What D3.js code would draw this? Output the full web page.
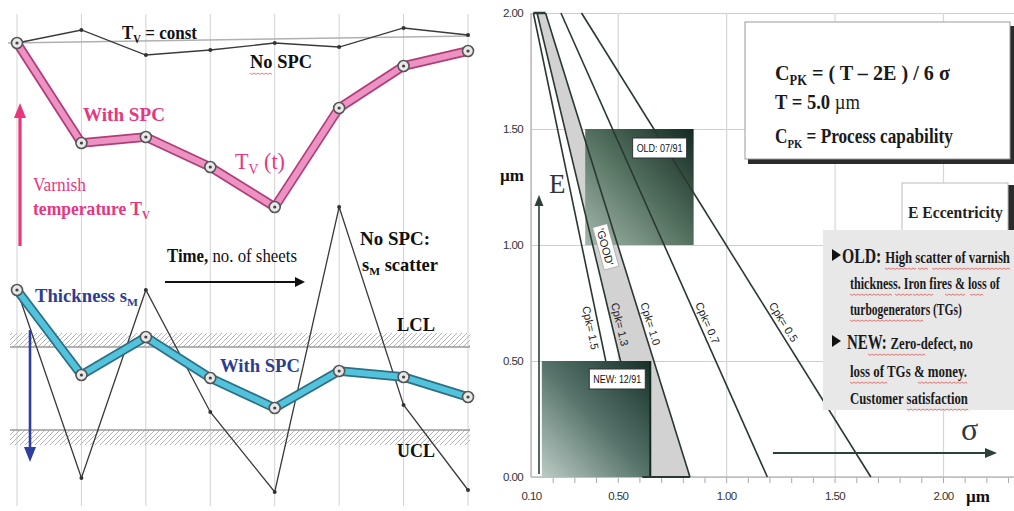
<!DOCTYPE html>
<html><head><meta charset="utf-8">
<script src="https://cdn.jsdelivr.net/npm/d3@7"></script>
<style>body{margin:0;background:#fff}svg{display:block}</style>
</head><body><svg id="c" width="1014" height="511"></svg>
<script>
// ---------- LEFT PANEL DATA (relative units, 0..100) ----------
const samples = [1, 2, 3, 4, 5, 6, 7, 8];
const tvNoSpc   = [91.4, 94.0, 89.0, 90.0, 91.4, 90.6, 94.4, 93.0];
const tvWithSpc = [91.4, 71.4, 72.6, 66.6, 58.6, 78.4, 86.8, 89.8];
const smWithSpc = [42.0, 25.0, 32.6, 24.4, 18.4, 25.8, 24.6, 20.6];
const smNoSpc   = [42.0, 4.4, 42.0, 17.6, 1.6, 58.6, 19.0, 2.0];
const tvConstRef = [91.4, 92.8];
const lclValue = 30.6;
const uclValue = 14.0;

// ---------- RIGHT PANEL DATA ----------
const sigmaTicks = [0.10, 0.50, 1.00, 1.50, 2.00];
const eTicks = [0.00, 0.50, 1.00, 1.50, 2.00];
const cpkValues    = [1.5, 1.3, 1.0, 0.7, 0.5];
const cpkSigmaAtE2 = [0.111, 0.128, 0.167, 0.238, 0.333];
const cpkSigmaAtE0 = [0.556, 0.641, 0.833, 1.190, 1.667];
const cpkLabelE = 0.65;
const oldSigma = [0.35, 0.85], oldE = [1.0, 1.5];
const newSigma = [0.15, 0.65], newE = [0.0, 0.5];

const svg = d3.select('#c');
svg.append('rect').attr('width', 1014).attr('height', 511).attr('fill', '#fff');
const defs = svg.append('defs');
const pat = defs.append('pattern').attr('id', 'hatch').attr('patternUnits', 'userSpaceOnUse')
  .attr('width', 5).attr('height', 5);
pat.append('path').attr('d', 'M-1,6 L6,-1 M4,6 L6,4 M-1,1 L1,-1').attr('stroke', '#b5b5b5').attr('stroke-width', 1);

function grad(id, light, mid, dark) {
  const g = defs.append('linearGradient').attr('id', id)
    .attr('x1', '0').attr('y1', '1').attr('x2', '1').attr('y2', '0');
  g.append('stop').attr('offset', '0').attr('stop-color', light);
  g.append('stop').attr('offset', '0.5').attr('stop-color', mid);
  g.append('stop').attr('offset', '1').attr('stop-color', dark);
}
grad('gOld', '#a3b7ad', '#54715f', '#132a23');
grad('gNew', '#bccbc4', '#55736a', '#17302a');

const SERIF = "'Liberation Serif','Times New Roman',serif";
const SANSN = "'Liberation Sans Narrow','Liberation Sans',Arial,sans-serif";

// text condensed horizontally to a target width (keeps sub/superscripts proportional)
function txt(x, y, parts, o) {
  const g = svg.append('g');
  const t = g.append('text').attr('x', 0).attr('y', 0)
    .attr('font-family', o.family || SERIF).attr('font-size', o.size)
    .attr('font-weight', o.weight || 'bold').attr('fill', o.fill || '#111');
  parts.forEach(p => {
    const s = t.append('tspan').text(p.t);
    if (p.sub) s.attr('font-size', o.size * 0.62).attr('dy', o.size * 0.22);
    if (p.up) s.attr('dy', -o.size * 0.22);
    if (p.w) s.attr('font-weight', p.w);
    if (p.size) s.attr('font-size', p.size);
  });
  let sx = 1;
  if (o.len) { const w = t.node().getComputedTextLength(); if (w > 0) sx = o.len / w; }
  g.attr('transform', `translate(${x},${y}) scale(${sx},1)`);
  return t;
}
function arrow(x1, y1, x2, y2, color, w, hl, hw) {
  const a = Math.atan2(y2 - y1, x2 - x1);
  const bx = x2 - hl * Math.cos(a), by = y2 - hl * Math.sin(a);
  svg.append('line').attr('x1', x1).attr('y1', y1).attr('x2', bx).attr('y2', by)
    .attr('stroke', color).attr('stroke-width', w);
  const px = -Math.sin(a) * hw, py = Math.cos(a) * hw;
  svg.append('path').attr('d', `M${x2},${y2}L${bx + px},${by + py}L${bx - px},${by - py}Z`).attr('fill', color);
}
function wavy(x1, x2, y) {
  let d = `M${x1},${y}`;
  for (let x = x1, k = 0; x < x2; x += 2, k++) d += `L${Math.min(x + 2, x2)},${y + (k % 2 ? 0 : 1.4)}`;
  svg.append('path').attr('d', d).attr('fill', 'none').attr('stroke', '#e0403a').attr('stroke-width', 0.8).attr('opacity', 0.85);
}

// ================= LEFT PANEL =================
const xL = d3.scalePoint().domain(samples).range([17, 468]);
const yL = d3.scaleLinear().domain([0, 100]).range([500, 0]);

svg.append('g').selectAll('line').data(samples).join('line')
  .attr('x1', d => xL(d)).attr('x2', d => xL(d)).attr('y1', 14).attr('y2', 506)
  .attr('stroke', '#d2d2d2').attr('stroke-width', 1);

svg.append('line').attr('x1', 8).attr('x2', 470)
  .attr('y1', yL(tvConstRef[0])).attr('y2', yL(tvConstRef[1]))
  .attr('stroke', '#b0b0b0').attr('stroke-width', 1.6);

svg.append('rect').attr('x', 10).attr('width', 460).attr('y', yL(lclValue) - 14).attr('height', 14).attr('fill', 'url(#hatch)');
svg.append('line').attr('x1', 10).attr('x2', 470).attr('y1', yL(lclValue)).attr('y2', yL(lclValue)).attr('stroke', '#9a9a9a').attr('stroke-width', 1.5);
svg.append('rect').attr('x', 10).attr('width', 460).attr('y', yL(uclValue)).attr('height', 15).attr('fill', 'url(#hatch)');
svg.append('line').attr('x1', 10).attr('x2', 470).attr('y1', yL(uclValue)).attr('y2', yL(uclValue)).attr('stroke', '#9a9a9a').attr('stroke-width', 1.5);

const lineL = d3.line().x((d, i) => xL(samples[i])).y(d => yL(d));

[tvNoSpc, smNoSpc].forEach(arr => {
  svg.append('path').attr('d', lineL(arr)).attr('fill', 'none').attr('stroke', '#3a3a3a').attr('stroke-width', 1.3);
  svg.append('g').selectAll('circle').data(arr).join('circle')
    .attr('cx', (d, i) => xL(samples[i])).attr('cy', d => yL(d)).attr('r', 2).attr('fill', '#333');
});

function band(arr, outer, inner) {
  svg.append('path').attr('d', lineL(arr)).attr('fill', 'none').attr('stroke', outer).attr('stroke-width', 9.5).attr('stroke-linejoin', 'round');
  svg.append('path').attr('d', lineL(arr)).attr('fill', 'none').attr('stroke', inner).attr('stroke-width', 6).attr('stroke-linejoin', 'round');
  const g = svg.append('g');
  g.selectAll('circle.o').data(arr).join('circle').attr('class', 'o')
    .attr('cx', (d, i) => xL(samples[i])).attr('cy', d => yL(d)).attr('r', 5.5)
    .attr('fill', '#e8e8e8').attr('stroke', '#555').attr('stroke-width', 1.6);
  g.selectAll('circle.i').data(arr).join('circle').attr('class', 'i')
    .attr('cx', (d, i) => xL(samples[i])).attr('cy', d => yL(d)).attr('r', 1.6).attr('fill', '#444');
}
band(tvWithSpc, '#b23c78', '#ec93c4');
band(smWithSpc, '#2c6f86', '#52c3da');

arrow(20, 246, 20, 103, '#e8357c', 3.2, 15, 6);
arrow(30, 330, 30, 462, '#2f3f9f', 2.6, 15, 6);
arrow(165, 282, 305, 282, '#111', 2.2, 10, 5);

const PINK = '#e5387f', BLUE = '#2f3d8f';
txt(122, 39, [{t: 'T'}, {t: 'V', sub: true}, {t: ' = const', up: true}], {size: 19, len: 75});
txt(250, 68, [{t: 'No  SPC'}], {size: 19, len: 62});
wavy(250, 272, 73);
txt(83, 121, [{t: 'With  SPC'}], {size: 19, fill: PINK, len: 82});
txt(235, 169, [{t: 'T'}, {t: 'V', sub: true}, {t: ' (t)', up: true}], {size: 24, fill: PINK, weight: 'normal', len: 50});
txt(33, 191, [{t: 'Varnish'}], {size: 19, fill: PINK, weight: 'normal', len: 53});
txt(33, 215, [{t: 'temperature T'}, {t: 'V', sub: true}], {size: 19, fill: PINK, len: 117});
txt(167, 262, [{t: 'Time,'}, {t: ' no. of sheets', w: 'normal'}], {size: 18, len: 130});
txt(360, 245, [{t: 'No  SPC:'}], {size: 18, len: 70});
txt(362, 271, [{t: 's'}, {t: 'M', sub: true}, {t: ' scatter', up: true}], {size: 18, len: 76});
txt(35, 302, [{t: 'Thickness s'}, {t: 'M', sub: true}], {size: 18, fill: BLUE, len: 103});
txt(220, 372, [{t: 'With  SPC'}], {size: 19, fill: BLUE, len: 80});
txt(397, 331, [{t: 'LCL'}], {size: 18, len: 38});
txt(397, 457, [{t: 'UCL'}], {size: 18, len: 38});

// ================= RIGHT PANEL =================
const xR = d3.scaleLinear().domain([0.1, 2.0]).range([531, 943]);
const yR = d3.scaleLinear().domain([0, 2]).range([477, 13]);

const gy = svg.append('g').attr('transform', 'translate(531,0)')
  .call(d3.axisLeft(yR).tickValues(eTicks).tickFormat(d3.format('.2f')).tickSize(-(1014 - 531)).tickPadding(8));
gy.select('.domain').remove();
gy.selectAll('line').attr('stroke', '#cfcfcf').attr('stroke-width', 1.2);
gy.selectAll('text').attr('font-family', SANSN).attr('font-size', 11.5).attr('fill', '#333').attr('letter-spacing', -0.6);

const gx = svg.append('g').attr('transform', 'translate(0,477)')
  .call(d3.axisBottom(xR).tickValues(sigmaTicks).tickFormat(d3.format('.2f')).tickSize(-(477 - 13)).tickPadding(15));
gx.select('.domain').remove();
gx.selectAll('line').attr('stroke', '#d6d6d6').attr('stroke-width', 1.2);
gx.selectAll('text').attr('font-family', SANSN).attr('font-size', 11.5).attr('fill', '#333').attr('letter-spacing', -0.6);

const minorTicks = d3.range(2, 24).map(d => d / 10);
const gm = svg.append('g').attr('transform', 'translate(0,477)')
  .call(d3.axisBottom(xR).tickValues(minorTicks).tickFormat('').tickSize(6));
gm.select('.domain').remove();
gm.selectAll('line').attr('stroke', '#aaa');
svg.append('line').attr('x1', 531).attr('x2', 1014).attr('y1', 477).attr('y2', 477).attr('stroke', '#bdbdbd').attr('stroke-width', 1.5);
svg.append('line').attr('x1', 531).attr('x2', 531).attr('y1', 13).attr('y2', 477).attr('stroke', '#bdbdbd').attr('stroke-width', 1.5);

const bandPts = [[cpkSigmaAtE2[1], 2], [cpkSigmaAtE2[2], 2], [cpkSigmaAtE0[2], 0], [cpkSigmaAtE0[1], 0]];
svg.append('path').attr('d', d3.line().x(d => xR(d[0])).y(d => yR(d[1]))(bandPts) + 'Z')
  .attr('fill', '#d2d2d2');
svg.append('line').attr('x1', xR(cpkSigmaAtE2[0])).attr('x2', xR(cpkSigmaAtE2[2])).attr('y1', yR(2)).attr('y2', yR(2))
  .attr('stroke', '#2c3f36').attr('stroke-width', 2.5);

svg.append('rect').attr('x', xR(oldSigma[0])).attr('y', yR(oldE[1]))
  .attr('width', xR(oldSigma[1]) - xR(oldSigma[0])).attr('height', yR(oldE[0]) - yR(oldE[1]))
  .attr('fill', 'url(#gOld)');

svg.append('g').selectAll('line').data(cpkValues).join('line')
  .attr('x1', (d, i) => xR(cpkSigmaAtE2[i])).attr('y1', yR(2))
  .attr('x2', (d, i) => xR(cpkSigmaAtE0[i])).attr('y2', yR(0))
  .attr('stroke', '#2a3832').attr('stroke-width', 1.6);

svg.append('rect').attr('x', xR(newSigma[0])).attr('y', yR(newE[1]))
  .attr('width', xR(newSigma[1]) - xR(newSigma[0])).attr('height', yR(newE[0]) - yR(newE[1]))
  .attr('fill', 'url(#gNew)');
svg.append('line').attr('x1', xR(newSigma[1])).attr('x2', xR(newSigma[1])).attr('y1', yR(newE[1])).attr('y2', yR(0))
  .attr('stroke', '#14281f').attr('stroke-width', 2);
svg.append('line').attr('x1', xR(newSigma[1]) - 8).attr('x2', xR(cpkSigmaAtE0[2])).attr('y1', yR(0)).attr('y2', yR(0))
  .attr('stroke', '#2a3832').attr('stroke-width', 2);

cpkValues.forEach((c, i) => {
  const x1 = xR(cpkSigmaAtE2[i]), y1 = yR(2), x2 = xR(cpkSigmaAtE0[i]), y2 = yR(0);
  const a = Math.atan2(y2 - y1, x2 - x1);
  const t = (yR(cpkLabelE) - y1) / (y2 - y1);
  const px = x1 + t * (x2 - x1), py = y1 + t * (y2 - y1);
  const off = i === 0 ? -12 : 4;
  const ox = px + Math.sin(a) * off, oy = py - Math.cos(a) * off;
  svg.append('text').attr('transform', `translate(${ox},${oy}) rotate(${a * 180 / Math.PI})`)
    .attr('text-anchor', 'middle').attr('font-family', SANSN).attr('font-size', 11).attr('fill', '#222')
    .text('Cpk= ' + d3.format('.1f')(c));
});

{
  const eMid = 1.0;
  const s13 = cpkSigmaAtE2[1] + (cpkSigmaAtE0[1] - cpkSigmaAtE2[1]) * (2 - eMid) / 2;
  const s10 = cpkSigmaAtE2[2] + (cpkSigmaAtE0[2] - cpkSigmaAtE2[2]) * (2 - eMid) / 2;
  const cx = (xR(s13) + xR(s10)) / 2, cy = yR(eMid) + 2;
  const a = Math.atan2(yR(0) - yR(2), ((xR(cpkSigmaAtE0[1]) + xR(cpkSigmaAtE0[2])) - (xR(cpkSigmaAtE2[1]) + xR(cpkSigmaAtE2[2]))) / 2) * 180 / Math.PI;
  const g = svg.append('g').attr('transform', `translate(${cx},${cy}) rotate(${a})`);
  g.append('rect').attr('x', -22).attr('y', -8).attr('width', 44).attr('height', 15).attr('fill', '#fff').attr('stroke', '#999').attr('stroke-width', 0.6);
  g.append('text').attr('text-anchor', 'middle').attr('y', 4).attr('font-family', SANSN).attr('font-size', 11).attr('fill', '#222').text("'GOOD'");
}

function tagBox(x, y, w, h, s) {
  svg.append('rect').attr('x', x).attr('y', y).attr('width', w).attr('height', h).attr('fill', '#fff').attr('stroke', '#333').attr('stroke-width', 1);
  svg.append('text').attr('x', x + w / 2).attr('y', y + h / 2 + 4).attr('text-anchor', 'middle')
    .attr('font-family', SANSN).attr('font-size', 10.5).attr('fill', '#111').attr('textLength', w - 8).attr('lengthAdjust', 'spacingAndGlyphs').text(s);
}
tagBox(xR(oldSigma[1]) - 61, yR(oldE[1]) + 9, 54, 20, 'OLD:  07/91');
tagBox(xR(newSigma[1]) - 61, yR(newE[1]) + 8, 56, 20, 'NEW:  12/91');

arrow(539, 474, 539, 195, '#2c4238', 1.6, 11, 4.5);
arrow(773, 453, 997, 453, '#2c4238', 2, 12, 5);
txt(549, 193, [{t: 'E'}], {size: 27, weight: 'normal', fill: '#333'});
txt(500, 181, [{t: 'µm'}], {size: 17, fill: '#111'});
txt(961, 440, [{t: 'σ'}], {size: 32, weight: 'normal', fill: '#2a3a4a'});
txt(966, 502, [{t: 'µm'}], {size: 17, fill: '#111'});

// formula box
svg.append('rect').attr('x', 748).attr('y', 26).attr('width', 266).attr('height', 138).attr('fill', '#2b2b2b');
svg.append('rect').attr('x', 745).attr('y', 22).attr('width', 265).attr('height', 137).attr('fill', '#fff').attr('stroke', '#999').attr('stroke-width', 1);
txt(775, 80, [{t: 'C'}, {t: 'PK', sub: true}, {t: ' = ( T – 2E ) / 6 σ', up: true}], {size: 22, len: 175, fill: '#1a1a1a'});
txt(775, 109, [{t: 'T = 5.0  '}, {t: 'µm', w: 'normal'}], {size: 20, len: 85, fill: '#1a1a1a'});
txt(775, 143, [{t: 'C'}, {t: 'PK', sub: true}, {t: ' = Process  capability', up: true}], {size: 21, len: 178, fill: '#1a1a1a'});

// E eccentricity box
svg.append('rect').attr('x', 1007).attr('y', 185).attr('width', 7).attr('height', 48).attr('fill', '#2b2b2b');
svg.append('rect').attr('x', 902).attr('y', 183).attr('width', 106).attr('height', 52).attr('fill', '#fff').attr('stroke', '#bbb').attr('stroke-width', 1);
txt(908, 218, [{t: 'E  Eccentricity'}], {size: 17, fill: '#222', len: 95});

// bullet box
svg.append('rect').attr('x', 823).attr('y', 230).attr('width', 191).attr('height', 180).attr('fill', '#e8e8e8');
function tri(x, y) {
  svg.append('path').attr('d', `M${x},${y - 12}L${x + 9},${y - 6}L${x},${y}Z`).attr('fill', '#111');
}
tri(832, 261); tri(832, 347);
txt(842, 263, [{t: 'OLD: ', size: 21}, {t: 'High scatter of  varnish'}], {size: 17, len: 168, fill: '#1a1a1a'});
txt(850, 289, [{t: 'thickness. Iron fires & loss of'}], {size: 17, len: 150, fill: '#1a1a1a'});
txt(850, 315, [{t: 'turbogenerators (TGs)'}], {size: 17, len: 112, fill: '#1a1a1a'});
txt(847, 349, [{t: 'NEW: ', size: 20}, {t: 'Zero-defect, no'}], {size: 17, len: 126, fill: '#1a1a1a'});
txt(850, 377, [{t: 'loss of TGs  & money.'}], {size: 17, len: 117, fill: '#1a1a1a'});
txt(850, 404, [{t: 'Customer  satisfaction'}], {size: 17, len: 118, fill: '#1a1a1a'});
[[885, 916, 268], [918, 928, 268], [932, 1010, 268], [850, 892, 294], [895, 912, 294], [913, 933, 294],
 [945, 965, 294], [970, 983, 294], [850, 923, 320], [868, 925, 354], [850, 887, 382], [918, 967, 382], [907, 968, 409]]
  .forEach(w => wavy(w[0], w[1], w[2]));
</script></body></html>
